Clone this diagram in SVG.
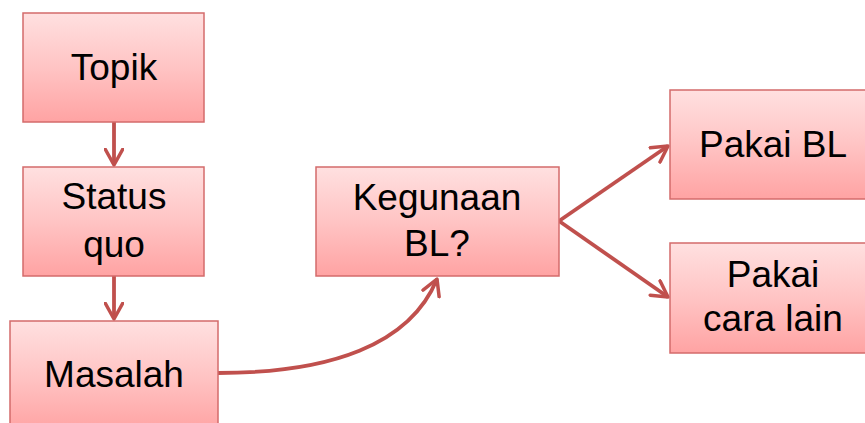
<svg xmlns="http://www.w3.org/2000/svg" width="865" height="423" viewBox="0 0 865 423">
<defs>
<linearGradient id="g" x1="0" y1="0" x2="0" y2="1">
<stop offset="0" stop-color="#FFE0E0"/>
<stop offset="0.5" stop-color="#FFC4C4"/>
<stop offset="1" stop-color="#FFA3A3"/>
</linearGradient>
<marker id="ah" viewBox="0 0 12 12" refX="10" refY="6" markerWidth="5.5" markerHeight="5.5" orient="auto" markerUnits="strokeWidth">
<path d="M1,1 L10,6 L1,11" fill="none" stroke="#C0504D" stroke-width="2" stroke-linecap="round" stroke-linejoin="round"/>
</marker>
</defs>
<style>
.box{fill:url(#g);stroke:#D46B6B;stroke-width:1.5}
.t{font-family:"Liberation Sans",Arial,sans-serif;font-size:37px;fill:#000;text-anchor:middle}
.c{fill:none;stroke:#C0504D;stroke-width:3.8;marker-end:url(#ah)}
</style>
<rect width="865" height="423" fill="#fff"/>
<g id="connectors">
<line class="c" x1="114" y1="122" x2="114" y2="165"/>
<line class="c" x1="114" y1="276" x2="114" y2="319"/>
<path class="c" d="M218,373 C330,373 410,345 437,279"/>
<line class="c" x1="559" y1="221" x2="668" y2="146"/>
<line class="c" x1="559" y1="221" x2="668" y2="297"/>
</g>
<g id="topik"><rect class="box" x="23" y="13" width="181" height="109"/><text class="t" x="114" y="80">Topik</text></g>
<g id="status"><rect class="box" x="23" y="167" width="181" height="109"/><text class="t" x="114" y="209">Status</text><text class="t" x="114" y="257">quo</text></g>
<g id="masalah"><rect class="box" x="10" y="321" width="208" height="110"/><text class="t" x="114" y="387">Masalah</text></g>
<g id="kegunaan"><rect class="box" x="316" y="167" width="243" height="109"/><text class="t" x="437" y="210">Kegunaan</text><text class="t" x="437" y="256">BL?</text></g>
<g id="pakaibl"><rect class="box" x="670" y="90" width="205" height="109"/><text class="t" x="773" y="157">Pakai BL</text></g>
<g id="pakaicara"><rect class="box" x="670" y="243" width="205" height="110"/><text class="t" x="773" y="287">Pakai</text><text class="t" x="773" y="331">cara lain</text></g>
</svg>
